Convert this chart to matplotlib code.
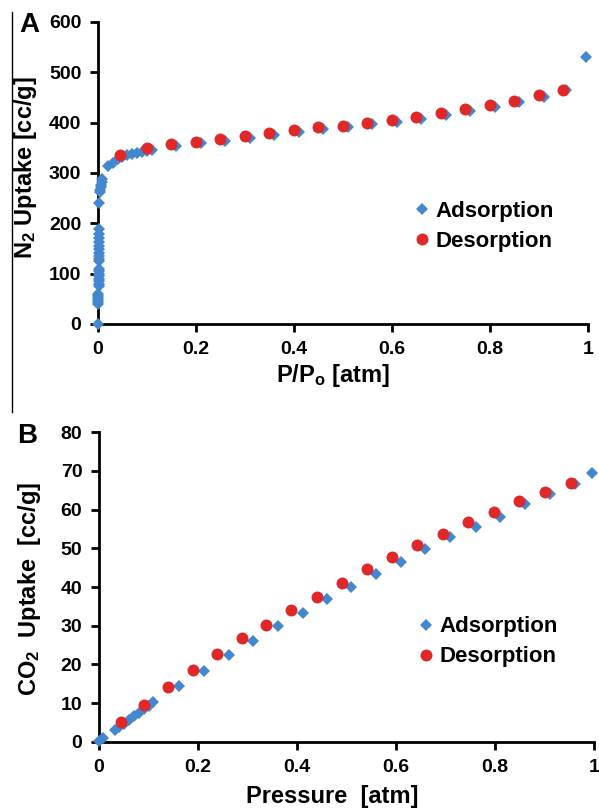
import numpy as np
import matplotlib.pyplot as plt
from matplotlib.lines import Line2D

plt.rcParams['font.family'] = 'Liberation Sans'
plt.rcParams['font.weight'] = 'bold'
plt.rcParams['mathtext.fontset'] = 'custom'
plt.rcParams['mathtext.rm'] = 'Liberation Sans:bold'
plt.rcParams['mathtext.default'] = 'rm'

# Panel A: N2 isotherm
n2_ads_x = [0.0, 0.001, 0.001, 0.001, 0.001, 0.001, 0.001,
            0.002, 0.002, 0.002, 0.002, 0.002, 0.002, 0.002, 0.002,
            0.002, 0.002, 0.002, 0.002, 0.002, 0.002, 0.002, 0.002, 0.002, 0.002,
            0.003, 0.004, 0.005, 0.006, 0.007, 0.008, 0.009,
            0.02, 0.03, 0.04, 0.05, 0.06, 0.07, 0.08, 0.09,
            0.10, 0.11, 0.16, 0.21, 0.26, 0.31, 0.36, 0.41, 0.46, 0.51, 0.56,
            0.61, 0.66, 0.71, 0.76, 0.81, 0.86, 0.91, 0.955, 0.995]
n2_ads_y = [0, 40, 44, 48, 52, 56, 60,
            75, 80, 85, 90, 95, 100, 105, 110,
            125, 130, 136, 142, 148, 155, 162, 170, 178, 188,
            240, 262, 267, 272, 277, 282, 288,
            313, 320, 327, 332, 335, 337, 339, 341,
            343, 346, 353, 359, 364, 369, 375, 381, 387, 392, 397,
            402, 408, 415, 423, 431, 441, 451, 464, 530]
n2_des_x = [0.045, 0.10, 0.15, 0.20, 0.25, 0.30, 0.35, 0.40, 0.45, 0.50,
            0.55, 0.60, 0.65, 0.70, 0.75, 0.80, 0.85, 0.90, 0.95]
n2_des_y = [336, 350, 357, 362, 368, 374, 379, 386, 391, 394,
            399, 405, 412, 419, 428, 435, 443, 454, 464]

# Panel B: CO2 isotherm
co2_ads_x = [0.0, 0.009, 0.032, 0.04, 0.05, 0.06, 0.07, 0.08, 0.09, 0.10, 0.11,
             0.161, 0.212, 0.262, 0.312, 0.361, 0.413, 0.461, 0.509, 0.559,
             0.610, 0.659, 0.709, 0.761, 0.81, 0.86, 0.912, 0.961, 0.996]
co2_ads_y = [0.3, 1.0, 3.1, 3.8, 4.7, 5.7, 6.6, 7.5, 8.5, 9.4, 10.4,
             14.4, 18.3, 22.4, 26.1, 29.9, 33.4, 36.8, 40.1, 43.4,
             46.5, 49.7, 52.8, 55.6, 58.1, 61.3, 64.0, 66.6, 69.3]
co2_des_x = [0.045, 0.09, 0.14, 0.19, 0.238, 0.289, 0.337, 0.388, 0.44, 0.49,
             0.541, 0.592, 0.643, 0.694, 0.746, 0.797, 0.849, 0.90, 0.953]
co2_des_y = [5.1, 9.6, 14.2, 18.5, 22.7, 26.8, 30.2, 34.0, 37.5, 41.1,
             44.6, 47.7, 50.8, 53.7, 56.7, 59.4, 62.2, 64.6, 66.9]

xtick_vals = [0, 0.2, 0.4, 0.6, 0.8, 1]
xtick_labels = ['0', '0.2', '0.4', '0.6', '0.8', '1']

blue = '#4387cf'
red = '#e02828'

fig = plt.figure(figsize=(5.99, 8.11), dpi=100)
axA = fig.add_axes([0.1636, 0.6005, 0.818, 0.3724])
axB = fig.add_axes([0.1653, 0.0851, 0.8264, 0.3822])


def style(ax):
    for s in ['top', 'right']:
        ax.spines[s].set_visible(False)
    for s in ['left', 'bottom']:
        ax.spines[s].set_linewidth(2)
    ax.tick_params(direction='out', length=6, width=2, labelsize=14, pad=6)
    for lab in ax.get_xticklabels() + ax.get_yticklabels():
        lab.set_fontweight('bold')


for ax, ax_x, ax_y, dx, dy in [(axA, n2_ads_x, n2_ads_y, n2_des_x, n2_des_y),
                               (axB, co2_ads_x, co2_ads_y, co2_des_x, co2_des_y)]:
    ax.plot(ax_x, ax_y, linestyle='none', marker='D', ms=6.5, color=blue,
            markeredgewidth=0, label='Adsorption', clip_on=False, zorder=3)
    ax.plot(dx, dy, linestyle='none', marker='o', ms=8.6, color=red,
            markeredgewidth=0, label='Desorption', clip_on=False, zorder=4)

axA.set_xlim(0, 1)
axA.set_ylim(0, 600)
axA.set_xticks(xtick_vals)
axA.set_xticklabels(xtick_labels)
axA.set_yticks(range(0, 601, 100))
style(axA)
axA.set_xlabel(r'P/P$_o$ [atm]', fontsize=17, fontweight='bold', va='center')
axA.xaxis.set_label_coords(0.48, -0.172)
axA.set_ylabel(r'N$_2$ Uptake [cc/g]', fontsize=17, fontweight='bold', va='center')
axA.yaxis.set_label_coords(-0.147, 0.517)

axB.set_xlim(0, 1)
axB.set_ylim(0, 80)
axB.set_xticks(xtick_vals)
axB.set_xticklabels(xtick_labels)
axB.set_yticks(range(0, 81, 10))
style(axB)
axB.set_xlabel('Pressure  [atm]', fontsize=17, fontweight='bold', va='center')
axB.xaxis.set_label_coords(0.472, -0.177)
axB.set_ylabel(r'CO$_2$  Uptake  [cc/g]', fontsize=17, fontweight='bold', va='center')
axB.yaxis.set_label_coords(-0.140, 0.494)

for ax, loc in [(axA, (0.639, 0.323)), (axB, (0.638, 0.323))]:
    ax.legend(loc='center left', bbox_to_anchor=loc, frameon=False,
              prop={'size': 16, 'weight': 'bold'}, handletextpad=0.1,
              handlelength=1.0, labelspacing=0.4, borderpad=0, borderaxespad=0)

fig.text(0.0484, 0.969, 'A', fontsize=20, fontweight='bold', ha='center', va='center')
fig.text(0.0459, 0.4618, 'B', fontsize=20, fontweight='bold', ha='center', va='center')

# thin frame line in the left margin
fig.add_artist(Line2D([0.0205, 0.0205], [0.985, 0.492], transform=fig.transFigure,
                      color='black', lw=1))

fig.savefig('out.png', dpi=100)
